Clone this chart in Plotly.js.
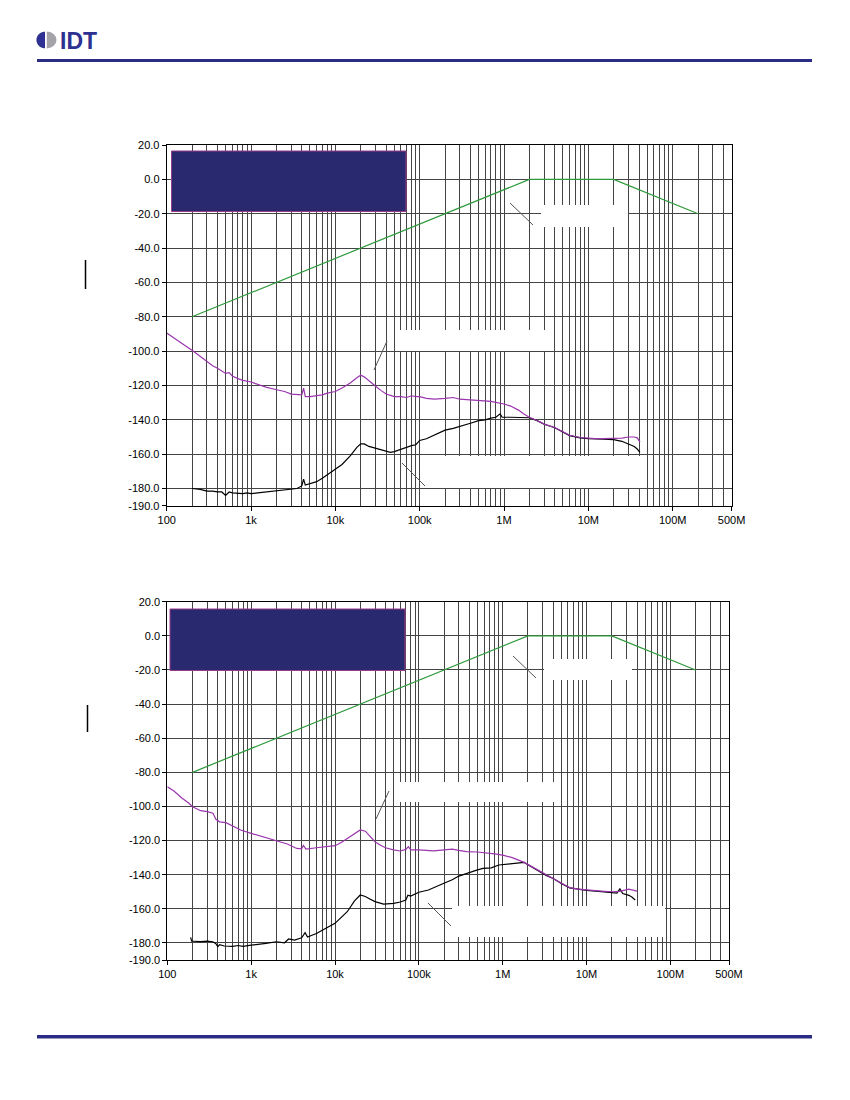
<!DOCTYPE html>
<html>
<head>
<meta charset="utf-8">
<script src="https://cdn.plot.ly/plotly-3.0.1.min.js"></script>
<style>
  html, body { margin: 0; padding: 0; background: #fff; }
  #chart { width: 850px; height: 1100px; }
</style>
</head>
<body>
<div id="chart"></div>
<script>
// ---- data ----
const maskFreq = [200, 2e6, 2e7, 2e8];
const maskDb = [-80, 0, 0, -20];

// top plot
const refFreq1 = [100, 120, 150, 180, 200, 250, 300, 350, 400, 450, 500, 550, 600, 700, 800, 1e3,
  1.2e3, 1.5e3, 2e3, 2.5e3, 3e3, 3.5e3, 4e3, 4.2e3, 4.4e3, 5e3, 6e3, 7e3, 8e3, 1e4, 1.2e4, 1.5e4,
  1.8e4, 2e4, 2.2e4, 2.5e4, 3e4, 3.5e4, 4e4, 5e4, 6e4, 7e4, 8e4, 9e4, 1e5, 1.2e5, 1.5e5, 2e5,
  2.5e5, 3e5, 4e5, 5e5, 6e5, 7e5, 8e5, 9e5, 1e6, 1.2e6, 1.5e6, 1.7e6, 2e6, 2.5e6, 3e6, 4e6, 5e6,
  6e6, 8e6, 1e7, 1.2e7, 1.5e7, 2e7, 2.5e7, 3e7, 3.5e7, 3.8e7, 4e7, 4.1e7];
const refDb1 = [-89.5, -92, -95, -98, -99.5, -103, -106, -108.5, -110, -111.5, -113, -112.5, -114.5,
  -116, -117, -118, -119.5, -121, -122.5, -123.5, -125, -125.5, -125.5, -121.5, -126.5, -126.5, -126,
  -125.5, -124.5, -123.5, -121.5, -118.5, -115.5, -114, -115, -117.5, -120.5, -123, -125, -126.5,
  -126.5, -127, -126, -126.5, -126.5, -127.5, -128, -127.5, -127, -128, -128.3, -128.6, -129, -129.3,
  -129.8, -130.3, -130.8, -132, -134.5, -136.5, -138.5, -140.5, -142.5, -144.5, -147, -149, -150.3,
  -150.8, -151, -151, -150.9, -150.7, -150, -150, -150.5, -152, -153];
const dutFreq1 = [200, 250, 300, 350, 400, 450, 500, 550, 600, 700, 800, 900, 1e3, 1.2e3, 1.5e3, 2e3,
  2.5e3, 3e3, 3.5e3, 4e3, 4.2e3, 4.4e3, 5e3, 6e3, 7e3, 8e3, 1e4, 1.2e4, 1.5e4, 1.8e4, 2e4, 2.2e4,
  2.5e4, 3e4, 3.5e4, 4e4, 4.5e4, 5e4, 6e4, 7e4, 8e4, 9e4, 1e5, 1.2e5, 1.5e5, 2e5, 2.5e5, 3e5, 4e5,
  5e5, 6e5, 7e5, 8e5, 9e5, 9.5e5, 1.2e6, 1.5e6, 1.8e6, 2e6, 2.5e6, 3e6, 4e6, 5e6, 6e6, 8e6, 1e7,
  1.5e7, 2e7, 2.5e7, 3e7, 3.5e7, 3.8e7, 4.1e7];
const dutDb1 = [-180, -180.5, -181.5, -181.5, -182, -182, -184, -182, -182.5, -183, -183, -182.5, -183,
  -182.5, -182, -181.5, -181, -180.5, -180, -178.5, -174.5, -178, -177, -176, -174, -172, -169, -166,
  -161, -156, -154, -154, -155.5, -156.5, -157.5, -158.5, -159, -158.5, -157, -156, -155, -154.5,
  -152, -151, -149, -146, -145, -144, -142, -140.5, -140, -139, -138.5, -136.5, -138.5, -138.5,
  -138.5, -138.5, -138.8, -140.6, -142.6, -144.6, -147.2, -149.2, -150.5, -151, -151.2, -151.5,
  -152.5, -154, -155.5, -157, -159];

// bottom plot
const refFreq2 = [100, 120, 150, 180, 200, 250, 300, 350, 380, 420, 500, 600, 750, 1e3, 1.2e3, 1.5e3,
  2e3, 2.7e3, 3.5e3, 4e3, 4.2e3, 4.5e3, 6e3, 8e3, 1e4, 1.2e4, 1.4e4, 1.7e4, 2e4, 2.3e4, 2.6e4, 3e4,
  3.5e4, 4e4, 5e4, 6e4, 7e4, 7.5e4, 8e4, 1e5, 1.5e5, 2e5, 2.5e5, 3e5, 3.7e5, 5e5, 6e5, 8e5, 1e6,
  1.3e6, 1.8e6, 2.2e6, 2.8e6, 3.3e6, 4e6, 5e6, 6.3e6, 8e6, 1e7, 1.5e7, 2e7, 2.5e7, 3.2e7, 3.8e7, 4e7];
const refDb2 = [-88.4, -91, -95.2, -98, -100.2, -102.5, -103, -104, -107.5, -109, -109.5, -111.5, -113.8,
  -115.8, -117, -118.3, -120.3, -122, -124.6, -124.8, -122.8, -125, -124.2, -123.7, -123, -121, -118.7,
  -116, -113.8, -114.5, -117.5, -120.7, -122.8, -124.2, -125.5, -126.1, -125.2, -123.6, -125.5, -125.5,
  -126.1, -125.5, -125, -125.8, -126.5, -126.7, -127, -127.8, -128.5, -130, -132.8, -135.2, -138.3,
  -140.2, -142.1, -145, -147.6, -148.5, -149, -149.6, -150, -149.8, -148.5, -149.4, -149.6];
const dutFreq2 = [190, 195, 210, 250, 300, 350, 380, 400, 420, 480, 600, 700, 800, 900, 1e3, 1.5e3,
  2e3, 2.5e3, 2.8e3, 3.3e3, 4e3, 4.4e3, 4.7e3, 6e3, 8e3, 1e4, 1.4e4, 1.7e4, 2e4, 2.3e4, 2.6e4, 3e4,
  3.8e4, 5e4, 6e4, 7e4, 7.4e4, 8e4, 1e5, 1.3e5, 1.9e5, 2.5e5, 3e5, 3.9e5, 4.8e5, 5.8e5, 7.3e5, 9e5,
  1e6, 1.3e6, 1.8e6, 2.2e6, 2.8e6, 3.3e6, 4e6, 5e6, 6.3e6, 8e6, 1e7, 1.5e7, 2e7, 2.3e7, 2.5e7, 2.7e7,
  3.2e7, 3.5e7, 3.8e7];
const dutDb2 = [-176.7, -178.9, -179, -179.2, -178.9, -179.3, -180.5, -182.2, -181, -181.8, -182,
  -181.5, -182, -181.8, -181.3, -180.3, -179.3, -179.9, -177.7, -178.3, -177, -174, -176.5, -174.5,
  -171, -168.5, -161.7, -155.5, -151.9, -152.8, -154.2, -155.8, -157.2, -156.8, -156, -154.8, -152,
  -152.5, -150.3, -149, -145.5, -143, -140.8, -139.2, -137.5, -136.3, -136, -134.3, -134, -133.5,
  -132.8, -135.4, -138.5, -140.4, -142.2, -145.2, -147.7, -148.7, -149.2, -149.9, -150.5, -150.8,
  -148.3, -151, -152.1, -153.2, -154.8];

const xTickVals = [100, 1e3, 1e4, 1e5, 1e6, 1e7, 1e8, 5e8];
const xTickText = ['100', '1k', '10k', '100k', '1M', '10M', '100M', '500M'];
const yTickVals = [20, 0, -20, -40, -60, -80, -100, -120, -140, -160, -180, -190];
const yTickText = ['20.0', '0.0', '-20.0', '-40.0', '-60.0', '-80.0', '-100.0', '-120.0',
  '-140.0', '-160.0', '-180.0', '-190.0'];

// minor grid at 2..9 of each decade, up to 400M
const minorVals = [];
for (let d = 100; d <= 1e8; d *= 10) {
  for (let m = 2; m <= 9; m++) {
    if (d * m < 5e8) minorVals.push(d * m);
  }
}

// ---- page geometry (pixels) ----
const W = 850, H = 1100;
const px = x => x / W;
const py = y => 1 - y / H;

const GREEN = '#2f9a3c';
const PURPLE = '#9a35ad';
const GRID = '#444444';
const NAVY = '#2b2c85';
const FONT = 'Liberation Sans, Arial, sans-serif';

function xAxis(dom, anchor) {
  return {
    type: 'log', range: [2, Math.log10(5e8)], domain: dom, anchor: anchor,
    tickmode: 'array', tickvals: xTickVals, ticktext: xTickText,
    ticks: 'outside', ticklen: 4, tickcolor: '#000',
    showgrid: true, gridcolor: GRID, gridwidth: 1,
    minor: { tickmode: 'array', tickvals: minorVals, showgrid: true, gridcolor: GRID, gridwidth: 1, ticks: '' },
    showline: true, linecolor: '#000', linewidth: 1, mirror: true,
    tickfont: { family: FONT, size: 11, color: '#000' },
    fixedrange: true, zeroline: false
  };
}
function yAxis(dom, anchor) {
  return {
    range: [-190, 20], domain: dom, anchor: anchor,
    tickmode: 'array', tickvals: yTickVals, ticktext: yTickText,
    ticks: 'outside', ticklen: 4, tickcolor: '#000',
    showgrid: true, gridcolor: GRID, gridwidth: 1,
    showline: true, linecolor: '#000', linewidth: 1, mirror: true,
    tickfont: { family: FONT, size: 11, color: '#000' },
    fixedrange: true, zeroline: false
  };
}

function line(x, y, color, xa, ya) {
  return { x: x, y: y, xaxis: xa, yaxis: ya, type: 'scatter', mode: 'lines',
    line: { color: color, width: 1.2 }, hoverinfo: 'skip', showlegend: false };
}

const data = [
  line(maskFreq, maskDb, GREEN, 'x', 'y'),
  line(dutFreq1, dutDb1, '#000', 'x', 'y'),
  line(refFreq1, refDb1, PURPLE, 'x', 'y'),
  line(maskFreq, maskDb, GREEN, 'x2', 'y2'),
  line(dutFreq2, dutDb2, '#000', 'x2', 'y2'),
  line(refFreq2, refDb2, PURPLE, 'x2', 'y2')
];

// blanked callout boxes, leaders and legend panels, in page pixels
const whiteBoxes = [
  [541, 205, 628, 227], [395, 330, 553, 351], [430, 456, 640, 488],
  [544, 659, 632, 680], [395, 782, 556, 802], [452, 906, 665, 937]
];
const leaders = [
  [510, 203, 533, 225], [387, 341, 374, 370], [402, 463, 425, 486],
  [513, 656, 536, 678], [389, 791, 376, 819], [428, 903, 451, 926]
];
const navyPanels = [[171.5, 151, 406, 211.5], [170, 609, 405, 670.5]];
const sideMarks = [[85.5, 260, 85.5, 289], [87.5, 705, 87.5, 732]];

const shapes = [];
whiteBoxes.forEach(b => shapes.push({ type: 'rect', xref: 'paper', yref: 'paper',
  x0: px(b[0]), y0: py(b[1]), x1: px(b[2]), y1: py(b[3]),
  fillcolor: '#fff', line: { width: 0 }, layer: 'above' }));
leaders.forEach(l => shapes.push({ type: 'line', xref: 'paper', yref: 'paper',
  x0: px(l[0]), y0: py(l[1]), x1: px(l[2]), y1: py(l[3]),
  line: { color: '#555', width: 1 }, layer: 'above' }));
navyPanels.forEach(b => shapes.push({ type: 'rect', xref: 'paper', yref: 'paper',
  x0: px(b[0]), y0: py(b[1]), x1: px(b[2]), y1: py(b[3]),
  fillcolor: '#29296f', line: { color: '#9a3a8a', width: 1 }, layer: 'above' }));
sideMarks.forEach(l => shapes.push({ type: 'line', xref: 'paper', yref: 'paper',
  x0: px(l[0]), y0: py(l[1]), x1: px(l[2]), y1: py(l[3]),
  line: { color: '#000', width: 1.5 }, layer: 'above' }));

// header / footer rules
shapes.push({ type: 'rect', xref: 'paper', yref: 'paper', x0: px(37), x1: px(812),
  y0: py(59), y1: py(62), fillcolor: NAVY, line: { width: 0 } });
shapes.push({ type: 'rect', xref: 'paper', yref: 'paper', x0: px(37), x1: px(812),
  y0: py(1035), y1: py(1038.5), fillcolor: NAVY, line: { width: 0 } });

// logo mark: gray disc, navy left half, thin white split
const cx = 46.5, cy = 40, rx = 10, ry = 8.5, k = 0.5523;
shapes.push({ type: 'circle', xref: 'paper', yref: 'paper',
  x0: px(cx - rx), x1: px(cx + rx), y0: py(cy - ry), y1: py(cy + ry),
  fillcolor: '#a3a3a8', line: { width: 0 } });
const L = cx - rx, T = cy - ry, B = cy + ry, S = cx - 1.5;
shapes.push({ type: 'path', xref: 'paper', yref: 'paper', fillcolor: '#2e3192', line: { width: 0 },
  path: `M ${px(S)},${py(T + 0.3)} C ${px(S - k * (S - L))},${py(T)} ${px(L)},${py(cy - k * ry)} ${px(L)},${py(cy)} ` +
        `C ${px(L)},${py(cy + k * ry)} ${px(S - k * (S - L))},${py(B)} ${px(S)},${py(B - 0.3)} Z` });
shapes.push({ type: 'rect', xref: 'paper', yref: 'paper', x0: px(S), x1: px(S + 1.8),
  y0: py(T - 1), y1: py(B + 1), fillcolor: '#fff', line: { width: 0 } });

const annotations = [{
  xref: 'paper', yref: 'paper', x: px(58), y: py(40.5), xanchor: 'left', yanchor: 'middle',
  text: '<b>IDT</b>', showarrow: false,
  font: { family: 'Liberation Sans Narrow, Liberation Sans, Arial, sans-serif', size: 23, color: '#2e3192' }
}];

const layout = {
  width: W, height: H, autosize: false,
  margin: { l: 0, r: 0, t: 0, b: 0 },
  paper_bgcolor: '#fff', plot_bgcolor: '#fff',
  showlegend: false,
  xaxis: xAxis([px(166.7), px(731.6)], 'y'),
  yaxis: yAxis([py(505.7), py(145)], 'x'),
  xaxis2: xAxis([px(167.3), px(729)], 'y2'),
  yaxis2: yAxis([py(960), py(601.7)], 'x2'),
  shapes: shapes,
  annotations: annotations
};

Plotly.newPlot('chart', data, layout, { staticPlot: true, displayModeBar: false });
</script>
</body>
</html>
